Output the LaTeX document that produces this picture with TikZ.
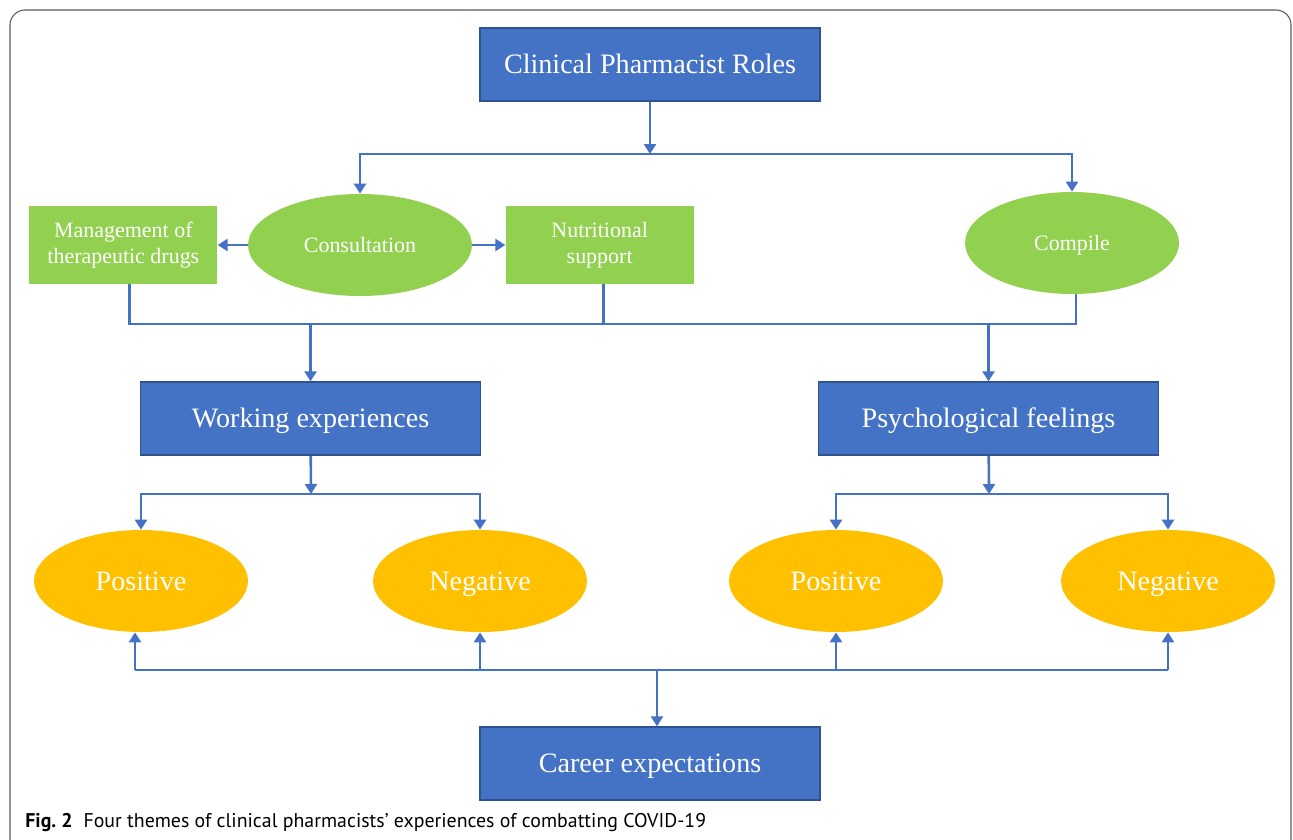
\documentclass[tikz,border=0pt]{standalone}
\usepackage{fontspec}
\setmainfont{Liberation Serif}
\newfontfamily\capfont{PT Sans}
\usepackage{tikz}
\usetikzlibrary{shapes.geometric, arrows.meta, positioning}
\definecolor{RoleBlue}{RGB}{68,114,196}
\definecolor{RoleBlueDark}{RGB}{47,82,143}
\definecolor{LeafGreen}{RGB}{146,208,80}
\definecolor{ToneAmber}{RGB}{255,192,0}
\definecolor{FrameGray}{RGB}{90,90,90}

\begin{document}
\begin{tikzpicture}[
    x=0.02cm, y=-0.02cm,
    theme/.style={draw=RoleBlueDark, fill=RoleBlue, rectangle, line width=0.8pt, text=white, align=center, minimum width=6.8cm, minimum height=1.46cm, text height=0.45cm, text depth=0.08cm, font=\fontsize{16}{19}\selectfont},
    rolebox/.style={fill=LeafGreen, rectangle, text=white, align=center, minimum width=3.76cm, minimum height=1.56cm, inner sep=0pt, font=\fontsize{12.5}{14.8}\selectfont},
    roleoval/.style={fill=LeafGreen, ellipse, text=white, minimum width=4.28cm, minimum height=2.04cm, inner sep=0pt, text height=0.36cm, text depth=0.07cm, font=\fontsize{12.5}{15}\selectfont},
    toneoval/.style={fill=ToneAmber, ellipse, text=white, minimum width=4.28cm, minimum height=2.04cm, inner sep=0pt, text height=0.45cm, text depth=0.08cm, font=\fontsize{16}{19}\selectfont},
    link/.style={draw=RoleBlue, line width=1.5pt},
    arrow/.style={link, -{Triangle[width=0.24cm, length=0.2cm]}}
]
\useasboundingbox (0,0) rectangle (1293,839);
\draw [FrameGray, line width=0.6pt, rounded corners=0.3cm] (10,860) -- (10,10) -- (1291,10) -- (1291,860);

\node (roles) [theme] at (650,64.5) {Clinical Pharmacist Roles};
\node (consult) [roleoval, minimum width=4.48cm] at (360,245) {Consultation};
\node (mgmt) [rolebox, left=0.6cm of consult] {Management of\\therapeutic drugs};
\node (nutri) [rolebox, right=0.66cm of consult] {Nutritional\\support};
\node (compile) [roleoval] at (1072,243) {Compile};
\node (work) [theme] at (310.5,418.5) {Working experiences};
\node (psych) [theme] at (988.5,418.5) {Psychological feelings};
\node (pos1) [toneoval] at (141,581) {Positive};
\node (neg1) [toneoval] at (480,581) {Negative};
\node (pos2) [toneoval] at (836,581) {Positive};
\node (neg2) [toneoval] at (1168,581) {Negative};
\node (career) [theme] at (650,763.5) {Career expectations};
\node (caption) [anchor=west, inner sep=0pt, font=\capfont\fontsize{11.3}{13}\selectfont] at (25,822) {\textbf{Fig.~2}\hspace{0.55em}Four themes of clinical pharmacists’ experiences of combatting COVID-19};

\coordinate (topbus) at (650,154);
\coordinate (midbus) at (0,324);
\coordinate (workbus) at (311,494);
\coordinate (psychbus) at (989,494);
\coordinate (botbus) at (657,670);

\draw [arrow] (roles) -- (topbus);
\draw [arrow] (topbus) -| (consult);
\draw [arrow] (topbus) -| (compile);
\draw [arrow] (consult) -- (mgmt);
\draw [arrow] (consult) -- (nutri);

\draw [link] ([xshift=0.12cm]mgmt.south) |- ([xshift=0.08cm]compile |- midbus) -- ([xshift=0.08cm]compile.south);
\draw [link] ([xshift=0.08cm]nutri.south) -- ([xshift=0.08cm]nutri.south |- midbus);
\draw [arrow] (work |- midbus) -- (work);
\draw [arrow] (psych |- midbus) -- (psych);

\draw [arrow] (work) -- (workbus);
\draw [arrow] (workbus) -| (pos1);
\draw [arrow] (workbus) -| (neg1);
\draw [arrow] (psych) -- (psychbus);
\draw [arrow] (psychbus) -| (pos2);
\draw [arrow] (psychbus) -| (neg2);

\draw [link] ([xshift=-0.12cm]pos1 |- botbus) -- (neg2 |- botbus);
\draw [arrow] ([xshift=-0.12cm]pos1 |- botbus) -- ([xshift=-0.12cm]pos1.south);
\draw [arrow] (neg1 |- botbus) -- (neg1);
\draw [arrow] (pos2 |- botbus) -- (pos2);
\draw [arrow] (neg2 |- botbus) -- (neg2);
\draw [arrow] (botbus) -- (botbus |- career.north);

\end{tikzpicture}
\end{document}
